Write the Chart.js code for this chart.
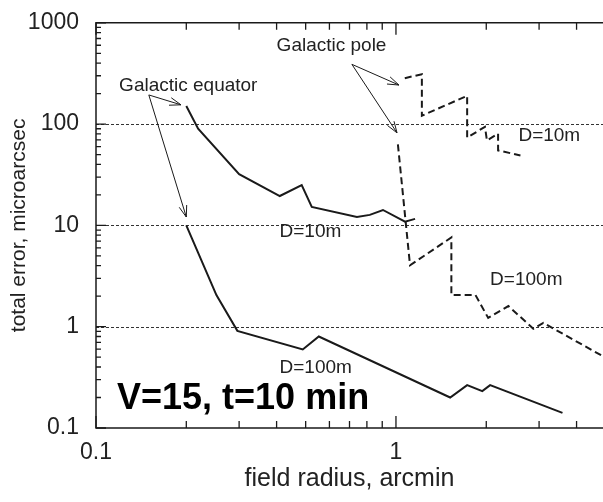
<!DOCTYPE html>
<html>
<head>
<meta charset="utf-8">
<script src="https://cdn.jsdelivr.net/npm/chart.js@4.4.1/dist/chart.umd.min.js"></script>
<style>
  body { margin: 0; background: #fff; }
  #wrap { width: 603px; height: 502px; }
</style>
</head>
<body>
<div id="wrap"><canvas id="chart"></canvas></div>
<script>
// field radius (arcmin) vs total error (microarcsec)
const eqD10X = [0.2, 0.219, 0.30, 0.41, 0.485, 0.524, 0.741, 0.818, 0.905, 1.072, 1.158];
const eqD10Y = [151, 90, 32, 19.5, 25, 15.2, 12.1, 12.7, 14.2, 10.9, 11.6];

const eqD100X = [0.2, 0.252, 0.296, 0.489, 0.553, 1.516, 1.727, 1.94, 2.06, 3.59];
const eqD100Y = [10, 2.05, 0.91, 0.596, 0.80, 0.20, 0.265, 0.231, 0.265, 0.141];

const poleD10X = [1.07, 1.22, 1.22, 1.727, 1.727, 1.98, 2.01, 2.19, 2.19, 2.60];
const poleD10Y = [284, 311, 121, 190, 73.6, 94, 69, 80.5, 55, 49];

const poleD100X = [1.015, 1.114, 1.53, 1.53, 1.84, 2.03, 2.37, 2.87, 3.1, 4.9];
const poleD100Y = [63, 4.04, 7.6, 2.06, 2.06, 1.22, 1.6, 0.955, 1.09, 0.51];

// axes
const xMajor = [0.1, 1];
const xMinor = [0.2, 0.3, 0.4, 0.5, 0.6, 0.7, 0.8, 0.9, 2, 3, 4];
const yMajor = [0.1, 1, 10, 100, 1000];
const yMinor = [0.2, 0.3, 0.4, 0.5, 0.6, 0.7, 0.8, 0.9,
                2, 3, 4, 5, 6, 7, 8, 9,
                20, 30, 40, 50, 60, 70, 80, 90,
                200, 300, 400, 500, 600, 700, 800, 900];
const gridY = [1, 10, 100];

// annotations (in data units)
const noteText = ["Galactic equator", "Galactic pole", "D=10m", "D=10m", "D=100m", "D=100m"];
const noteX = [0.1194, 0.40, 2.56, 0.409, 2.06, 0.409];
const noteY = [212, 522, 68.8, 7.76, 2.57, 0.347];

const arrowFromX = [0.150, 0.150, 0.713, 0.713];
const arrowFromY = [194, 194, 389, 389];
const arrowToX = [0.192, 0.200, 1.023, 1.008];
const arrowToY = [155, 12.1, 243, 82];

const family = '"Liberation Sans", Arial, Helvetica, sans-serif';
const ink = '#1a1a1a';

function series(xs, ys, dash) {
  return {
    data: xs.map((v, i) => ({ x: v, y: ys[i] })),
    borderColor: ink,
    borderWidth: 2,
    borderDash: dash,
    pointRadius: 0,
    tension: 0,
    fill: false
  };
}

function arrow(ctx, x0, y0, x1, y1) {
  const ang = Math.atan2(y1 - y0, x1 - x0);
  ctx.beginPath();
  ctx.moveTo(x0, y0);
  ctx.lineTo(x1, y1);
  [-0.33, 0.33].forEach(function (d) {
    ctx.moveTo(x1, y1);
    ctx.lineTo(x1 - 12 * Math.cos(ang + d), y1 - 12 * Math.sin(ang + d));
  });
  ctx.stroke();
}

const decor = {
  id: "decor",
  beforeDatasetsDraw(chart) {
    const { ctx, chartArea: a, scales: { y } } = chart;
    ctx.save();
    ctx.strokeStyle = "#333";
    ctx.lineWidth = 1.2;
    ctx.setLineDash([3, 2]);
    gridY.forEach(function (v) {
      const py = Math.round(y.getPixelForValue(v)) + 0.5;
      ctx.beginPath();
      ctx.moveTo(a.left, py);
      ctx.lineTo(a.right, py);
      ctx.stroke();
    });
    ctx.restore();
  },
  afterDatasetsDraw(chart) {
    const { ctx, chartArea: a, scales: { x, y } } = chart;
    ctx.save();
    ctx.strokeStyle = ink;
    ctx.lineWidth = 1.5;

    // frame (right side falls off the picture)
    ctx.beginPath();
    ctx.moveTo(a.right + 2, a.top);
    ctx.lineTo(a.left, a.top);
    ctx.lineTo(a.left, a.bottom);
    ctx.lineTo(a.right + 2, a.bottom);
    ctx.stroke();

    // inward ticks
    ctx.lineWidth = 1.3;
    ctx.beginPath();
    xMajor.concat(xMinor).forEach(function (v) {
      const len = xMajor.includes(v) ? 12 : 7;
      const px = x.getPixelForValue(v);
      ctx.moveTo(px, a.bottom); ctx.lineTo(px, a.bottom - len);
      ctx.moveTo(px, a.top); ctx.lineTo(px, a.top + len);
    });
    yMajor.concat(yMinor).forEach(function (v) {
      const len = yMajor.includes(v) ? 10 : 5;
      const py = y.getPixelForValue(v);
      ctx.moveTo(a.left, py); ctx.lineTo(a.left + len, py);
    });
    ctx.stroke();

    // arrows
    ctx.lineWidth = 1;
    for (let i = 0; i < arrowFromX.length; i++) {
      arrow(ctx,
        x.getPixelForValue(arrowFromX[i]), y.getPixelForValue(arrowFromY[i]),
        x.getPixelForValue(arrowToX[i]), y.getPixelForValue(arrowToY[i]));
    }

    // labels
    ctx.fillStyle = "#222";
    ctx.textBaseline = "alphabetic";
    ctx.textAlign = "left";
    ctx.font = "19px " + family;
    noteText.forEach(function (t, i) {
      ctx.fillText(t, x.getPixelForValue(noteX[i]), y.getPixelForValue(noteY[i]));
    });
    ctx.fillStyle = "#000";
    ctx.font = "bold 36px " + family;
    ctx.fillText("V=15, t=10 min", x.getPixelForValue(0.1175), y.getPixelForValue(0.1545));
    ctx.restore();
  }
};

new Chart(document.getElementById("chart"), {
  type: "line",
  data: {
    datasets: [
      series(eqD10X, eqD10Y, []),
      series(eqD100X, eqD100Y, []),
      series(poleD10X, poleD10Y, [7, 4]),
      series(poleD100X, poleD100Y, [7, 4])
    ]
  },
  options: {
    responsive: true,
    maintainAspectRatio: false,
    animation: false,
    layout: { padding: { top: 8, left: 0, right: 0, bottom: 0 } },
    plugins: { legend: { display: false }, tooltip: { enabled: false } },
    scales: {
      x: {
        type: "logarithmic",
        min: 0.1,
        max: 4.9,
        grid: { display: false },
        border: { display: false },
        afterBuildTicks: function (s) { s.ticks = xMajor.map(v => ({ value: v })); },
        afterFit: function (s) { s.height = 74; },
        ticks: {
          autoSkip: false, maxRotation: 0, padding: 3, color: "#222",
          font: { family: family, size: 23 },
          callback: v => String(v)
        },
        title: {
          display: true, text: "field radius, arcmin", color: "#222",
          font: { family: family, size: 25 }, padding: { top: 0, bottom: 8 }
        }
      },
      y: {
        type: "logarithmic",
        min: 0.1,
        max: 1000,
        grid: { display: false },
        border: { display: false },
        afterBuildTicks: function (s) { s.ticks = yMajor.map(v => ({ value: v })); },
        afterFit: function (s) { s.width = 96; },
        ticks: {
          autoSkip: false, padding: 9, color: "#222",
          font: { family: family, size: 23 },
          callback: v => String(v)
        },
        title: {
          display: true, text: "total error, microarcsec", color: "#222",
          font: { family: family, size: 21 }, padding: { top: 7, bottom: 0 }
        }
      }
    }
  },
  plugins: [decor]
});
</script>
</body>
</html>
